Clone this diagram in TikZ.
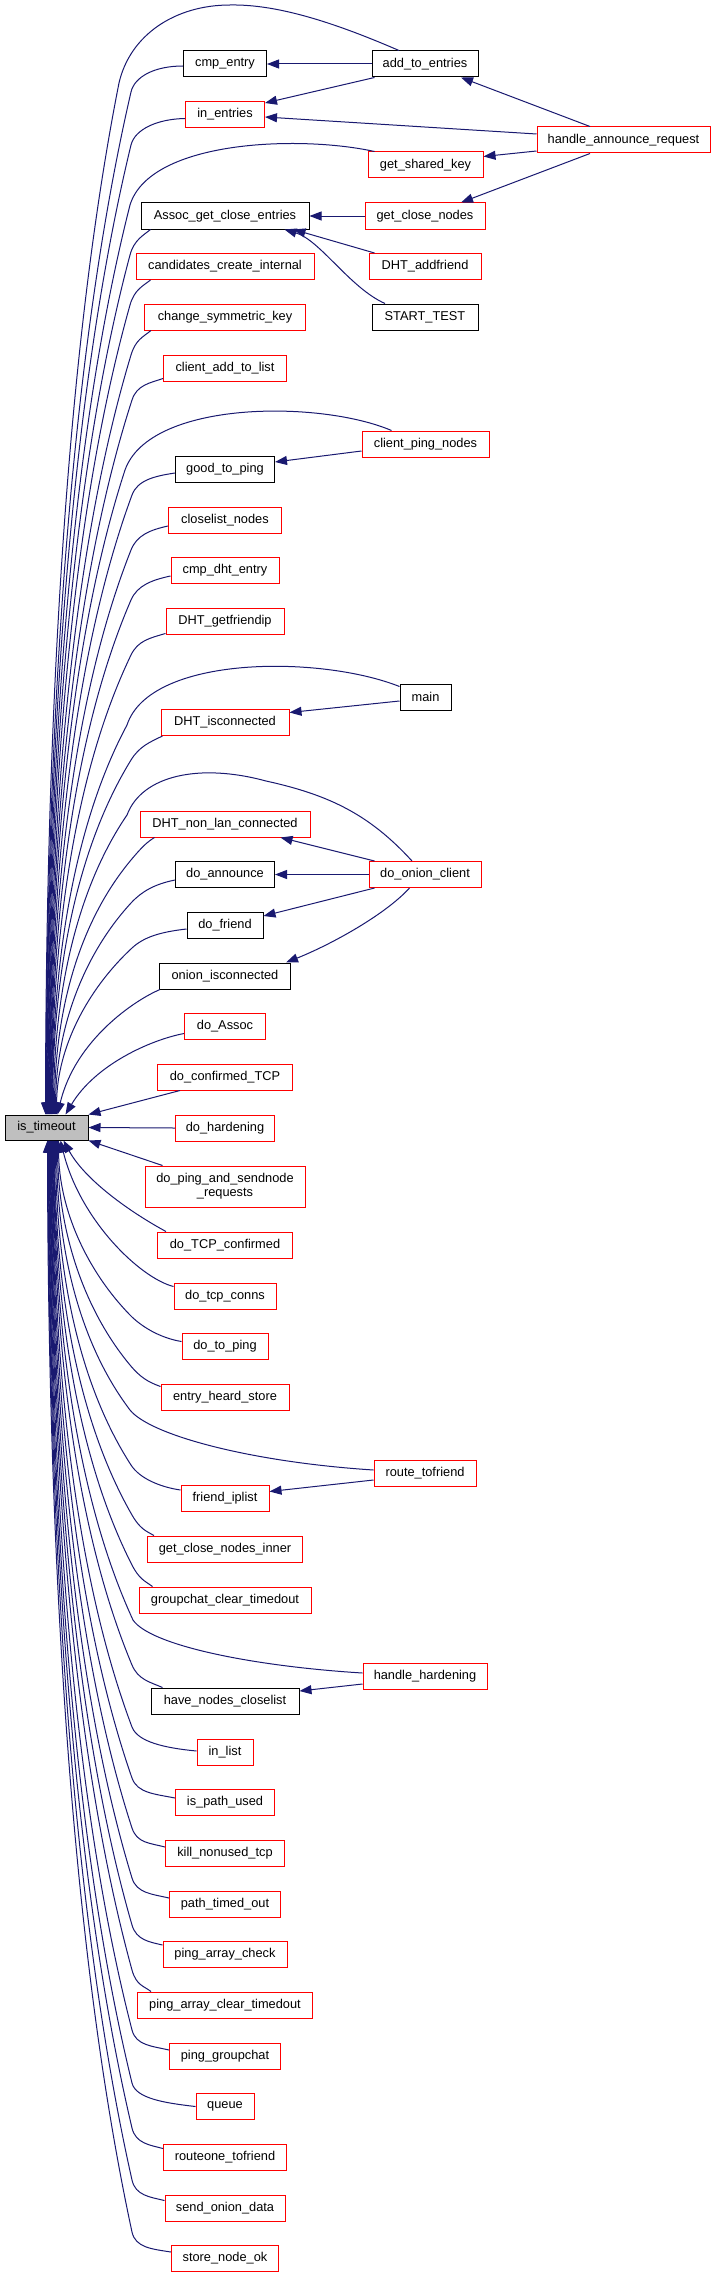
\documentclass[tikz,border=0pt]{standalone}
\usepackage{fontspec}
\setmainfont{Liberation Sans}
\usetikzlibrary{arrows.meta}
\definecolor{edgec}{HTML}{191970}
\definecolor{boxred}{HTML}{FF0000}
\definecolor{boxgray}{HTML}{BFBFBF}
\tikzset{
  fn/.style={draw, line width=1pt, fill=white, minimum height=26pt, inner sep=0pt,
    font=\fontsize{12.8pt}{14pt}\selectfont, align=center},
  rbox/.style={fn, draw=boxred},
  kbox/.style={fn, draw=black},
  conn/.style={draw=edgec, line width=1pt, -{Triangle[length=12pt,width=9pt]}},
}
\newcommand\upedge[7]{%
 \pgfmathsetmacro\myDX{-#6*(#3-#5)}%
 \pgfmathsetmacro\myDY{0.25*(1115-#4)}%
 \pgfmathsetmacro\myL{veclen(\myDX,\myDY)}%
 \pgfmathsetmacro\myAX{#3-16*\myDX/\myL}%
 \pgfmathsetmacro\myAY{#4-16*\myDY/\myL}%
 \pgfmathsetmacro\myBX{#3+\myDX}%
 \pgfmathsetmacro\myBY{#4+\myDY}%
 \pgfmathsetmacro\myCX{#5+#7}%
 \pgfmathsetmacro\myCY{1115-0.4*(1115-#4)}%
 \pgfmathsetmacro\mySH{#5-5}%
 \draw[conn] (#1) .. controls (#2) and (\myAX,\myAY) .. (#3,#4) .. controls (\myBX,\myBY) and (\myCX,\myCY) .. ([xshift=\mySH pt]istimeout.north west);%
}
\newcommand\uparc[6]{%
 \pgfmathsetmacro\myDX{-#5*(#2-#4)}%
 \pgfmathsetmacro\myDY{0.25*(1115-#3)}%
 \pgfmathsetmacro\myBX{#2+\myDX}%
 \pgfmathsetmacro\myBY{#3+\myDY}%
 \pgfmathsetmacro\myCX{#4+#6}%
 \pgfmathsetmacro\myCY{1115-0.4*(1115-#3)}%
 \pgfmathsetmacro\mySH{#4-5}%
 \draw[conn] #1 (#2,#3) .. controls (\myBX,\myBY) and (\myCX,\myCY) .. ([xshift=\mySH pt]istimeout.north west);%
}
\newcommand\lowedge[7]{%
 \pgfmathsetmacro\myDX{-#6*(#3-#5)}%
 \pgfmathsetmacro\myDY{-0.25*(#4-1140)}%
 \pgfmathsetmacro\myL{veclen(\myDX,\myDY)}%
 \pgfmathsetmacro\myAX{#3-16*\myDX/\myL}%
 \pgfmathsetmacro\myAY{#4-16*\myDY/\myL}%
 \pgfmathsetmacro\myBX{#3+\myDX}%
 \pgfmathsetmacro\myBY{#4+\myDY}%
 \pgfmathsetmacro\myCX{#5+#7}%
 \pgfmathsetmacro\myCY{1140+0.4*(#4-1140)}%
 \pgfmathsetmacro\mySH{#5-5}%
 \draw[conn] (#1) .. controls (#2) and (\myAX,\myAY) .. (#3,#4) .. controls (\myBX,\myBY) and (\myCX,\myCY) .. ([xshift=\mySH pt]istimeout.south west);%
}
\newcommand\lowarc[6]{%
 \pgfmathsetmacro\myDX{-#5*(#2-#4)}%
 \pgfmathsetmacro\myDY{-0.25*(#3-1140)}%
 \pgfmathsetmacro\myBX{#2+\myDX}%
 \pgfmathsetmacro\myBY{#3+\myDY}%
 \pgfmathsetmacro\myCX{#4+#6}%
 \pgfmathsetmacro\myCY{1140+0.4*(#3-1140)}%
 \pgfmathsetmacro\mySH{#4-5}%
 \draw[conn] #1 (#2,#3) .. controls (\myBX,\myBY) and (\myCX,\myCY) .. ([xshift=\mySH pt]istimeout.south west);%
}
\begin{document}
\begin{tikzpicture}[x=1pt,y=-1pt]
\useasboundingbox (0,0) rectangle (715,2277);
\fill[white] (0,0) rectangle (715,2277);
% target
\node[kbox, fill=boxgray, minimum width=83pt, minimum height=25pt] (istimeout) at (46.5,1127.5) {is\_timeout};
% column 1
\node[kbox, minimum width=83pt]  (cmpentry) at (225,64) {cmp\_entry};
\node[rbox, minimum width=79pt]  (inentries) at (225,114.5) {in\_entries};
\node[kbox, minimum width=168pt] (assoc) at (225,216) {Assoc\_get\_close\_entries};
\node[rbox, minimum width=178pt] (candidates) at (225,266.5) {candidates\_create\_internal};
\node[rbox, minimum width=161pt] (changesym) at (225,317) {change\_symmetric\_key};
\node[rbox, minimum width=123pt] (clientadd) at (225,368) {client\_add\_to\_list};
\node[kbox, minimum width=99pt]  (goodtoping) at (225,469) {good\_to\_ping};
\node[rbox, minimum width=113pt] (closelist) at (225,520) {closelist\_nodes};
\node[rbox, minimum width=108pt] (cmpdht) at (225,570.5) {cmp\_dht\_entry};
\node[rbox, minimum width=118pt] (dhtgetfriendip) at (225,621) {DHT\_getfriendip};
\node[rbox, minimum width=128pt] (dhtisconn) at (225,722.5) {DHT\_isconnected};
\node[rbox, minimum width=170pt] (dhtnonlan) at (225,824) {DHT\_non\_lan\_connected};
\node[kbox, minimum width=99pt]  (doannounce) at (225,874.5) {do\_announce};
\node[kbox, minimum width=76pt]  (dofriend) at (225,925) {do\_friend};
\node[kbox, minimum width=131pt] (onionisconn) at (225,976) {onion\_isconnected};
\node[rbox, minimum width=81pt]  (doassoc) at (225,1026.5) {do\_Assoc};
\node[rbox, minimum width=135pt] (doconfirmed) at (225,1077) {do\_confirmed\_TCP};
\node[rbox, minimum width=99pt]  (dohardening) at (225,1128) {do\_hardening};
\node[rbox, minimum width=160pt, minimum height=41pt] (doping) at (225,1186.5) {do\_ping\_and\_sendnode\\\_requests};
\node[rbox, minimum width=135pt] (dotcpconfirmed) at (225,1245) {do\_TCP\_confirmed};
\node[rbox, minimum width=102pt] (dotcpconns) at (225,1296) {do\_tcp\_conns};
\node[rbox, minimum width=86pt]  (dotoping) at (225,1346.5) {do\_to\_ping};
\node[rbox, minimum width=128pt] (entryheard) at (225,1397) {entry\_heard\_store};
\node[rbox, minimum width=88pt]  (friendiplist) at (225,1498.5) {friend\_iplist};
\node[rbox, minimum width=155pt] (gcninner) at (225,1549) {get\_close\_nodes\_inner};
\node[rbox, minimum width=172pt] (groupchatclear) at (225,1600) {groupchat\_clear\_timedout};
\node[kbox, minimum width=148pt] (havenodes) at (225,1701) {have\_nodes\_closelist};
\node[rbox, minimum width=56pt]  (inlist) at (225,1752) {in\_list};
\node[rbox, minimum width=99pt]  (ispathused) at (225,1802.5) {is\_path\_used};
\node[rbox, minimum width=119pt] (killnonused) at (225,1853) {kill\_nonused\_tcp};
\node[rbox, minimum width=111pt] (pathtimedout) at (225,1904) {path\_timed\_out};
\node[rbox, minimum width=124pt] (pingarraycheck) at (225,1954.5) {ping\_array\_check};
\node[rbox, minimum width=175pt] (pingarrayclear) at (225,2005) {ping\_array\_clear\_timedout};
\node[rbox, minimum width=111pt] (pinggroupchat) at (225,2056) {ping\_groupchat};
\node[rbox, minimum width=58pt]  (queue) at (225,2106.5) {queue};
\node[rbox, minimum width=123pt] (routeone) at (225,2157) {routeone\_tofriend};
\node[rbox, minimum width=120pt] (sendonion) at (225,2208) {send\_onion\_data};
\node[rbox, minimum width=107pt] (storenodeok) at (225,2258.5) {store\_node\_ok};
% column 2
\node[kbox, minimum width=106pt] (addtoentries) at (425,64) {add\_to\_entries};
\node[rbox, minimum width=115pt] (getsharedkey) at (425.5,165) {get\_shared\_key};
\node[rbox, minimum width=120pt] (getclosenodes) at (425,216) {get\_close\_nodes};
\node[rbox, minimum width=112pt] (dhtaddfriend) at (425,266.5) {DHT\_addfriend};
\node[kbox, minimum width=106pt] (starttest) at (425,317) {START\_TEST};
\node[rbox, minimum width=127pt] (clientping) at (425.5,444) {client\_ping\_nodes};
\node[kbox, minimum width=51pt]  (main) at (425.5,697) {main};
\node[rbox, minimum width=112pt] (doonion) at (425,874.5) {do\_onion\_client};
\node[rbox, minimum width=102pt] (routetofriend) at (425,1473) {route\_tofriend};
\node[rbox, minimum width=124pt] (handlehardening) at (425,1676) {handle\_hardening};
% column 3
\node[rbox, minimum width=173pt] (har) at (623.5,140) {handle\_announce\_request};

% edges between callers
\draw[conn] (addtoentries.west) -- (cmpentry.east);
\draw[conn] ([xshift=3pt]addtoentries.south west) -- ([yshift=-2pt]inentries.north east);
\draw[conn] ([yshift=6pt]har.west) -- ([yshift=-2.5pt]inentries.east);
\draw[conn] ([xshift=-33.5pt]har.north) -- ([xshift=36pt]addtoentries.south);
\draw[conn] ([yshift=-11pt]har.west) -- ([yshift=-5pt]getsharedkey.north east);
\draw[conn] ([xshift=-33.5pt]har.south) -- ([xshift=36pt]getclosenodes.north);
\draw[conn] (getclosenodes.west) -- (assoc.east);
\draw[conn] ([xshift=6pt]dhtaddfriend.north west) -- ([xshift=-16pt]assoc.south east);
\draw[conn] ([xshift=-40pt]starttest.north) .. controls (350,288) and (320,240) .. ([xshift=-25pt]assoc.south east);
\draw[conn] ([yshift=-7pt]clientping.west) -- ([yshift=7pt]goodtoping.east);
\draw[conn] ([yshift=-4pt]main.west) -- ([yshift=10pt]dhtisconn.east);
\draw[conn] ([xshift=6pt]doonion.north west) -- ([xshift=-30pt]dhtnonlan.south east);
\draw[conn] (doonion.west) -- (doannounce.east);
\draw[conn] ([xshift=6pt]doonion.south west) -- ([yshift=9pt]dofriend.east);
\draw[conn] ([xshift=41pt]doonion.south west) .. controls (385,915) and (330,945) .. ([xshift=-5pt]onionisconn.north east);
\draw[conn] ([yshift=-7pt]routetofriend.west) -- ([yshift=7pt]friendiplist.east);
\draw[conn] ([yshift=-8pt]handlehardening.west) -- ([yshift=10pt]havenodes.east);

% edges into is_timeout from above
\uparc{([xshift=-26pt]addtoentries.north) .. controls (340,25) and (280,4) .. (230,5) .. controls (175,5) and (130,35) ..}{119}{83}{46}{0.7}{0}
\upedge{[yshift=-2pt]cmpentry.west}{155,66}{131}{92}{46.5}{0.7}{0}
\upedge{[yshift=-4pt]inentries.west}{157,119}{131}{145}{47}{0.7}{0}
\uparc{([xshift=7pt]getsharedkey.north west) .. controls (300,135) and (150,140) ..}{130}{205}{47.5}{0.7}{0}
\upedge{[xshift=10pt]assoc.south west}{144,235}{130}{255}{48}{0.7}{0}
\upedge{[xshift=15pt]candidates.south west}{143,286}{130}{305}{48.5}{0.7}{0}
\upedge{[xshift=7pt]changesym.south west}{143,337}{131}{355}{49}{0.7}{0}
\upedge{[yshift=3pt]clientadd.south west}{150,383}{132}{400}{49.5}{0.7}{0}
\uparc{([xshift=-34pt]clientping.north) .. controls (320,400) and (150,400) ..}{125}{470}{50}{0.7}{0}
\upedge{[yshift=-4pt]goodtoping.west}{155,476}{132}{495}{50.5}{0.7}{0}
\upedge{[yshift=-6pt]closelist.west}{150,530}{131}{550}{51}{0.7}{0}
\upedge{[yshift=-5.5pt]cmpdht.west}{152,580}{131}{600}{51.5}{0.7}{0}
\upedge{[yshift=1pt]dhtgetfriendip.south west}{150,638}{131}{655}{52}{0.7}{0}
\uparc{([yshift=-3pt]main.north west) .. controls (320,655) and (150,655) ..}{127}{725}{52.5}{0.7}{0}
\upedge{[xshift=2pt]dhtisconn.south west}{150,742}{131}{760}{53}{0.7}{0}
\uparc{([xshift=-13pt]doonion.north) .. controls (370,815) and (330,795) .. (266,781) .. controls (200,763) and (142,775) ..}{127}{815}{54}{0.7}{0}
\upedge{[xshift=15pt]dhtnonlan.south west}{147,842}{131}{860}{55}{0.7}{0}
\upedge{[yshift=-5.5pt]doannounce.west}{155,884}{131}{903}{56}{0.65}{0}
\upedge{[yshift=-4pt]dofriend.west}{160,932}{132}{948}{57}{0.6}{0}
\draw[conn] ([xshift=1pt]onionisconn.south west) .. controls (135,1000) and (75,1040) .. ([xshift=53pt]istimeout.north west);
\draw[conn] ([yshift=-7pt]doassoc.west) .. controls (150,1040) and (95,1065) .. ([xshift=61pt]istimeout.north west);
\draw[conn] ([xshift=23pt]doconfirmed.south west) -- (istimeout.north east);
\draw[conn] (dohardening.west) -- (istimeout.east);

% edges into is_timeout from below
\draw[conn] ([xshift=18pt]doping.north west) -- (istimeout.south east);
\draw[conn] ([xshift=9pt]dotcpconfirmed.north west) .. controls (130,1212) and (85,1180) .. ([xshift=59pt]istimeout.south west);
\draw[conn] ([yshift=-4pt]dotcpconns.north west) .. controls (140,1278) and (80,1220) .. ([xshift=56pt]istimeout.south west);
\lowedge{[yshift=5pt]dotoping.west}{160,1338}{130}{1315}{59}{0.6}{0}
\lowedge{[yshift=-3pt]entryheard.north west}{148,1382}{130}{1365}{58}{0.65}{0}
\lowarc{([yshift=3pt]routetofriend.west) .. controls (250,1462) and (150,1435) ..}{130}{1410}{57}{0.7}{0}
\lowedge{[yshift=-5pt]friendiplist.north west}{160,1487}{131}{1465}{56}{0.7}{0}
\lowedge{[xshift=7pt]gcninner.north west}{146,1531}{132}{1515}{55}{0.7}{0}
\lowedge{[xshift=14pt]groupchatclear.north west}{145,1581}{132}{1565}{54.5}{0.7}{0}
\lowarc{([yshift=3pt]handlehardening.west) .. controls (250,1666) and (150,1645) ..}{133}{1620}{54}{0.7}{0}
\lowedge{[xshift=12pt]havenodes.north west}{150,1682}{132}{1665}{53.5}{0.7}{0}
\lowedge{[yshift=1pt]inlist.west}{165,1748}{132}{1727}{53}{0.7}{0}
\lowedge{[yshift=4.5pt]ispathused.west}{155,1794}{132}{1778}{52.5}{0.7}{0}
\lowedge{[yshift=6pt]killnonused.west}{150,1843}{132}{1828}{52}{0.7}{0}
\lowedge{[yshift=6pt]pathtimedout.west}{152,1894}{132}{1878}{51.5}{0.7}{0}
\lowedge{[yshift=-4pt]pingarraycheck.north west}{150,1942}{132}{1925}{51}{0.7}{0}
\lowedge{[xshift=14pt]pingarrayclear.north west}{144,1986}{132}{1970}{50.5}{0.7}{0}
\lowedge{[yshift=6pt]pinggroupchat.west}{152,2046}{132}{2030}{50}{0.7}{0}
\lowedge{queue.west}{165,2103}{132}{2083}{49.5}{0.7}{0}
\lowedge{[yshift=-5pt]routeone.north west}{150,2145}{132}{2128}{49}{0.7}{0}
\lowedge{[yshift=-6pt]sendonion.north west}{150,2197}{132}{2180}{48.5}{0.7}{0}
\lowedge{[yshift=-7pt]storenodeok.north west}{152,2249}{132}{2232}{48}{0.7}{0}
\end{tikzpicture}
\end{document}
